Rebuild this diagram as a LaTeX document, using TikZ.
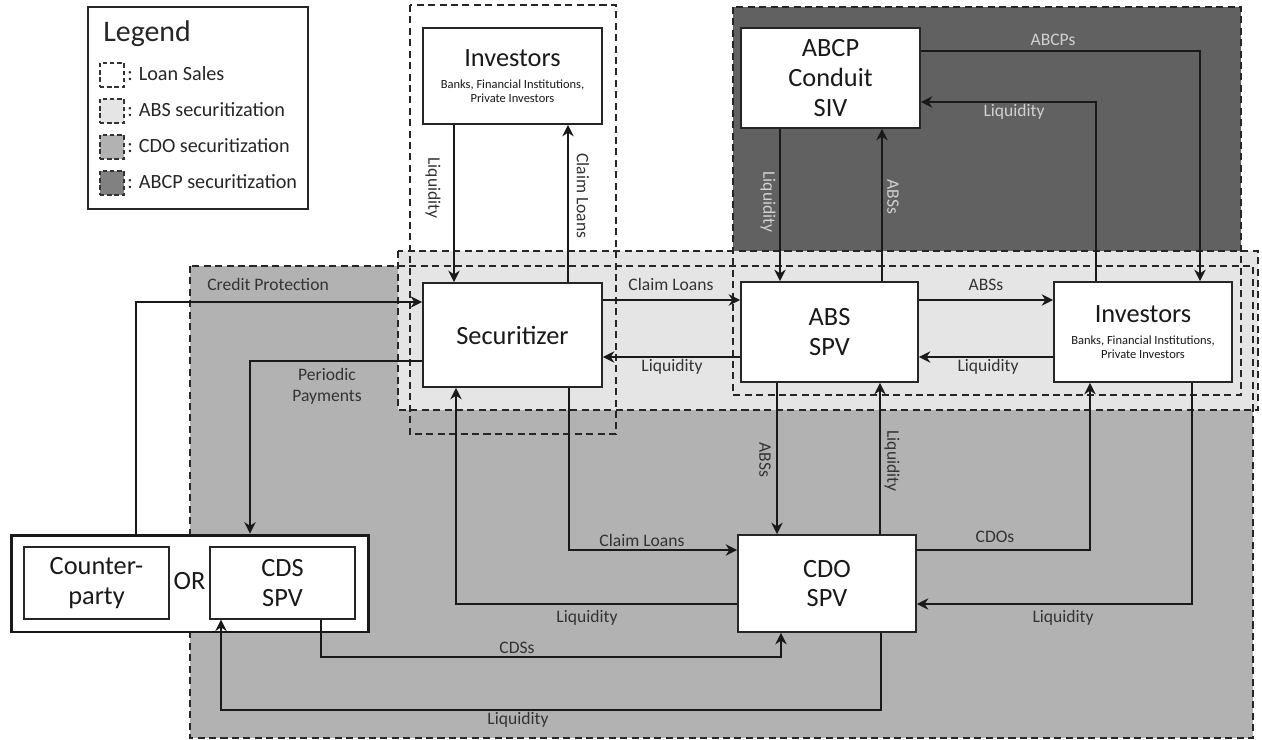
\documentclass[tikz,border=0pt]{standalone}
\usepackage{fontspec}
\setmainfont{Carlito}
\usepackage{tikz}
\usetikzlibrary{arrows.meta, positioning, calc}
\definecolor{absgray}{gray}{0.90}
\definecolor{cdogray}{gray}{0.70}
\definecolor{abcpgray}{gray}{0.38}
\tikzset{
    agent_box/.style={
        rectangle, draw=black!85, fill=white, line width=1.1pt,
        minimum width=3.58cm, minimum height=2.0cm, inner sep=2pt,
        align=center, font=\fontsize{15}{17}\selectfont, text=black!90
    },
    small_box/.style={
        rectangle, draw=black!85, fill=white, line width=0.8pt,
        minimum width=2.9cm, minimum height=1.44cm, inner sep=1pt,
        align=center, font=\fontsize{15}{17}\selectfont, text=black!90
    },
    region_dash/.style={
        draw=black!85, line width=0.8pt, dash pattern=on 4pt off 2.5pt
    },
    key_box/.style={
        rectangle, draw=black!80, line width=0.7pt, dash pattern=on 2.5pt off 1.6pt,
        minimum size=0.48cm, inner sep=0pt
    },
    key_text/.style={
        anchor=base west, inner sep=0pt, font=\fontsize{11.5}{13}\selectfont, text=black!85
    },
    flow_arrow/.style={
        -{Stealth[length=6.5pt,width=6.5pt]}, line width=0.8pt, draw=black!90
    },
    lbl/.style={
        font=\fontsize{10}{12}\selectfont, text=black!80, inner sep=1pt, align=center
    },
    lbl_up/.style={lbl, rotate=-90},
    lbl_light/.style={lbl, text=black!18}
}
\newcommand{\investorsub}{\fontsize{7.1}{8}\selectfont}

\begin{document}
\begin{tikzpicture}[x=0.02cm, y=-0.02cm]

    \useasboundingbox (0,0) rectangle (1262,740);

    % shaded areas
    \fill[cdogray] (190,266) rectangle (1253,738);
    \fill[abcpgray] (733,7) rectangle (1241,395);
    \fill[absgray] (398,251) rectangle (1258,410);
    \draw[region_dash] (190,266) rectangle (1253,738);
    \draw[region_dash] (733,7) rectangle (1241,395);
    \draw[region_dash] (398,251) rectangle (1258,410);
    \draw[region_dash] (410,5) rectangle (616,434);

    % legend
    \node[rectangle, draw=black!85, line width=0.8pt, minimum width=4.4cm, minimum height=4.04cm] (legend) at (198,108) {};
    \node[anchor=base west, inner sep=0pt, font=\fontsize{17}{19}\selectfont, text=black!85] (legend_title) at (103,42) {Legend};
    \node[key_box, fill=white] (key_loan) at (112,75) {};
    \node[key_box, fill=absgray] (key_abs) at (112,111) {};
    \node[key_box, fill=cdogray] (key_cdo) at (112,147) {};
    \node[key_box, fill=abcpgray!80] (key_abcp) at (112,183) {};
    \node[key_text] at (127,81) {: Loan Sales};
    \node[key_text] at (127,117) {: ABS securitization};
    \node[key_text] at (127,153) {: CDO securitization};
    \node[key_text] at (127,189) {: ABCP securitization};

    % parties
    \node[agent_box, minimum height=1.92cm] (invtop) at (512.5,76) {Investors\\[-4.5pt]{\investorsub Banks, Financial Institutions,}\\[-9pt]{\investorsub Private Investors}};
    \node[agent_box] (abcp) at (830.5,78) {ABCP\\Conduit\\SIV};
    \node[agent_box, minimum height=2.08cm] (sec) at (512.5,335) {Securitizer};
    \node[agent_box, minimum width=3.54cm] (abs) at (829.5,332) {ABS\\SPV};
    \node[agent_box, minimum width=3.56cm] (invr) at (1143,332) {Investors\\[-4.5pt]{\investorsub Banks, Financial Institutions,}\\[-9pt]{\investorsub Private Investors}};
    \node[agent_box, minimum width=3.56cm, minimum height=1.94cm] (cdo) at (827,583.5) {CDO\\SPV};
    \node[rectangle, draw=black!90, fill=white, line width=1.7pt, minimum width=7.16cm, minimum height=1.94cm] (cdsgrp) at (190,583.5) {};
    \node[small_box] (cpty) at (96.5,583) {Counter-\\party};
    \node[small_box] (cds) at (282.5,583) {CDS\\SPV};
    \node[font=\fontsize{15}{17}\selectfont, text=black!90, inner sep=0pt] (or) at (189.5,581) {OR};

    % loan sales
    \draw[flow_arrow] (invtop.south -| 454,0) -- (sec.north -| 454,0);
    \draw[flow_arrow] (sec.north -| 568,0) -- (invtop.south -| 568,0);

    % abs securitization
    \draw[flow_arrow] (sec.east |- 0,300) -- (abs.west |- 0,300);
    \draw[flow_arrow] (abs.west |- 0,357) -- (sec.east |- 0,357);
    \draw[flow_arrow] (abs.east |- 0,300) -- (invr.west |- 0,300);
    \draw[flow_arrow] (invr.west |- 0,357) -- (abs.east |- 0,357);

    % abcp
    \draw[flow_arrow] (abcp.south -| 780,0) -- (abs.north -| 780,0);
    \draw[flow_arrow] (abs.north -| 882,0) -- (abcp.south -| 882,0);
    \draw[flow_arrow] (abcp.east |- 0,51) -- (1200,51) -- (invr.north -| 1200,0);
    \draw[flow_arrow] (invr.north -| 1096,0) -- (1096,102) -- (abcp.east |- 0,102);

    % cds
    \draw[flow_arrow] (cdsgrp.north -| 136,0) -- (136,302) -- (sec.west |- 0,302);
    \draw[flow_arrow] (sec.west |- 0,361) -- (250,361) -- (cdsgrp.north -| 250,0);

    % cdo
    \draw[flow_arrow] (sec.south -| 569,0) -- (569,550) -- (cdo.west |- 0,550);
    \draw[flow_arrow] (cdo.west |- 0,604) -- (456,604) -- (sec.south -| 456,0);
    \draw[flow_arrow] (abs.south -| 777,0) -- (cdo.north -| 777,0);
    \draw[flow_arrow] (cdo.north -| 880,0) -- (abs.south -| 880,0);
    \draw[flow_arrow] (cdo.east |- 0,550) -- (1090,550) -- (invr.south -| 1090,0);
    \draw[flow_arrow] (invr.south -| 1192,0) -- (1192,604) -- (cdo.east |- 0,604);
    \draw[flow_arrow] (cds.south -| 321,0) -- (321,657) -- (781,657) -- (cdo.south -| 781,0);
    \draw[flow_arrow] (cdo.south -| 881,0) -- (881,710) -- (221,710) -- (cds.south -| 221,0);

    % labels
    \node[lbl_up] (l_liq_top) at (433,188) {Liquidity};
    \node[lbl_up] (l_claim_top) at (583,196) {Claim Loans};
    \node[lbl] (l_claim_abs) at (671,284) {Claim Loans};
    \node[lbl] (l_liq_abs) at (672,367) {Liquidity};
    \node[lbl] (l_abs_inv) at (986,285) {ABSs};
    \node[lbl] (l_liq_inv) at (988,367) {Liquidity};
    \node[lbl_light, rotate=-90] (l_liq_abcp) at (768,202) {Liquidity};
    \node[lbl_light, rotate=-90] (l_abs_abcp) at (893,197) {ABSs};
    \node[lbl_light] (l_abcps) at (1053,40) {ABCPs};
    \node[lbl_light] (l_liq_siv) at (1014,112) {Liquidity};
    \node[lbl] (l_credit) at (268,284) {Credit Protection};
    \node[lbl] (l_periodic) at (327,386) {Periodic\\Payments};
    \node[lbl] (l_claim_cdo) at (642,540) {Claim Loans};
    \node[lbl] (l_liq_cdo) at (587,618) {Liquidity};
    \node[lbl_up] (l_abs_cdo) at (765,460) {ABSs};
    \node[lbl_up] (l_liq_up) at (892,461) {Liquidity};
    \node[lbl] (l_cdos) at (995,537) {CDOs};
    \node[lbl] (l_liq_cdor) at (1063,618) {Liquidity};
    \node[lbl] (l_cdss) at (517,648) {CDSs};
    \node[lbl] (l_liq_bot) at (518,720) {Liquidity};

\end{tikzpicture}
\end{document}
